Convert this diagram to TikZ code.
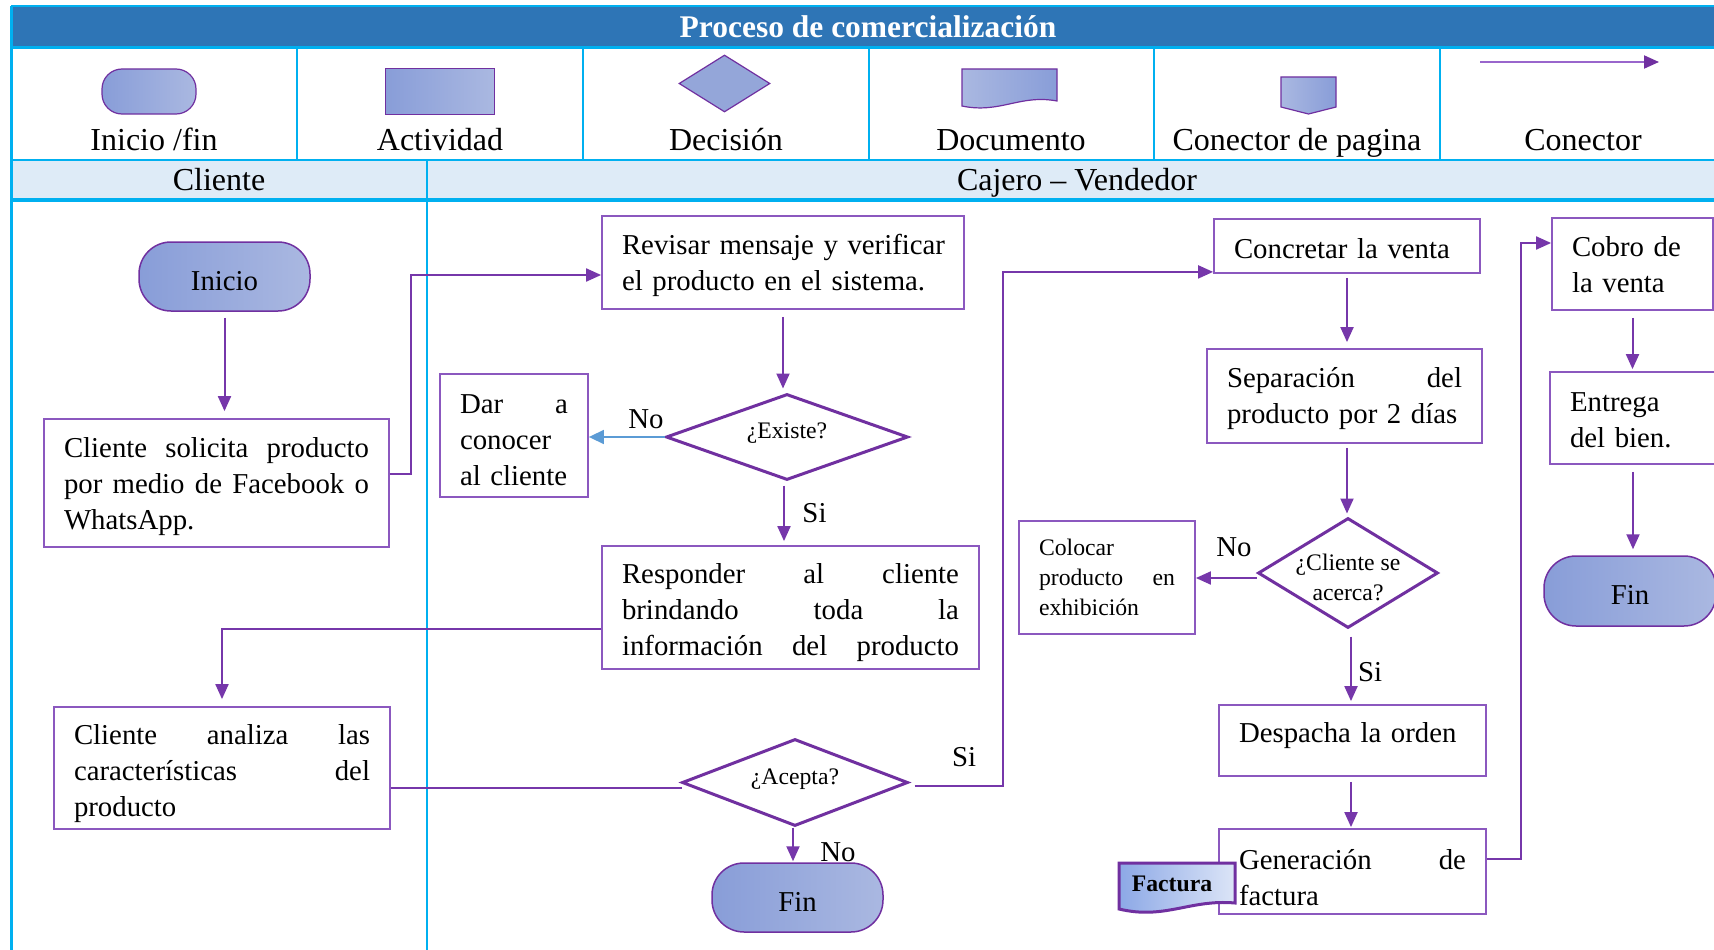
\documentclass[tikz,border=0pt]{standalone}
\usepackage{fontspec}
\setmainfont{Liberation Serif}
\usetikzlibrary{arrows.meta,shapes.geometric,calc}
\definecolor{tbar}{HTML}{2E75B6}
\definecolor{cyanl}{HTML}{00B0F0}
\definecolor{lanebg}{HTML}{DEEBF7}
\definecolor{pur}{HTML}{7030A0}
\definecolor{purbox}{HTML}{8B58BF}
\definecolor{purline}{HTML}{7637AA}
\definecolor{lgline}{HTML}{9966CC}
\definecolor{gradL}{HTML}{889DD8}
\definecolor{gradR}{HTML}{AAB8E1}
\definecolor{noblue}{HTML}{5B9BD5}
\definecolor{decfill}{HTML}{94A6D9}
\definecolor{factL}{HTML}{8CA8E6}
\definecolor{factR}{HTML}{DCE5F7}
\newcommand\fBody{\fontsize{28.8pt}{36pt}\selectfont\parindent=0pt}
\newcommand\fSmall{\fontsize{23.7pt}{30pt}\selectfont\parindent=0pt}
\newcommand\fHead{\fontsize{32pt}{38pt}\selectfont}
\newcommand\fTitle{\fontsize{31.5pt}{38pt}\selectfont\bfseries}
\begin{document}
\begin{tikzpicture}[x=1pt,y=-1pt,
  box/.style={draw=purbox, line width=1.8pt, fill=white, inner xsep=20pt, inner ysep=0pt, align=left, font=\fBody},
  tsh/.style={execute at begin node={\rule{0pt}{34pt}}, execute at end node={\rule[-#1pt]{0pt}{#1pt}}},
  term/.style={draw=pur, line width=1.5pt, rounded corners=32pt, left color=gradL, right color=gradR, font=\fBody, inner sep=0pt, text height=27.5pt, text depth=0pt},
  dec/.style={diamond, draw=pur, line width=3pt, fill=white, inner sep=-4pt, font=\fSmall, align=center},
  arr/.style={draw=purline, line width=2pt, -{Triangle[length=15pt,width=13pt]}},
  bluearr/.style={draw=noblue, line width=1.5pt, -{Triangle[length=15pt,width=14pt]}},
  lbl/.style={font=\fBody, inner sep=0pt},
  lglbl/.style={font=\fHead, inner sep=0pt, anchor=base},
]
\useasboundingbox (0,0) rectangle (1714,950);
\clip (0,0) rectangle (1714,950);
\fill[white] (0,0) rectangle (1714,950);

% ---- table frame ----
\fill[tbar] (11,6) rectangle (1730,48);
\fill[lanebg] (11,160) rectangle (1730,200);
\draw[cyanl, line width=1.5pt] (11,6) -- (1730,6);
\draw[cyanl, line width=3pt] (11,48) -- (1730,48);
\draw[cyanl, line width=2.5pt] (11,160) -- (1730,160);
\draw[cyanl, line width=4pt] (11,200) -- (1730,200);
\foreach \x in {297,583,869,1154,1440} \draw[cyanl, line width=2pt] (\x,48) -- (\x,160);
\draw[cyanl, line width=2pt] (427,160) -- (427,950);
\draw[cyanl, line width=3pt] (11,6) -- (11,950);

\node[font=\fTitle, text=white, anchor=base, inner sep=0pt] (title) at (868,37.5) {Proceso de comercialización};

% ---- legend ----
\node[term, line width=1.2pt, rounded corners=20pt, minimum width=94pt, minimum height=45pt, text height=0pt] (lgTerm) at (149,91.5) {};
\node[draw=pur, line width=1pt, left color=gradL, right color=gradR, minimum width=109pt, minimum height=45pt, inner sep=0pt] (lgAct) at (439.5,91.5) {};
\node[diamond, draw=pur, line width=1.2pt, fill=decfill, minimum width=91pt, minimum height=57pt, inner sep=0pt] (lgDec) at (724.5,83.5) {};
\shade[left color=gradR, right color=gradL, draw=pur, line width=1.2pt] (962,69) -- (1057,69) -- (1057,101) .. controls (1020,94) and (1000,114) .. (962,106) -- cycle;
\shade[left color=gradR, right color=gradL, draw=pur, line width=1.2pt] (1281,77) -- (1336,77) -- (1336,107) -- (1308.5,114) -- (1281,107) -- cycle;
\coordinate (lgA1) at (1480,62);
\coordinate (lgA2) at (1659,62);
\draw[draw=lgline, line width=2pt, -{Triangle[length=15pt,width=13pt,color=pur]}] (lgA1) -- (lgA2);

\node[lglbl] (l1) at (154,150.5) {Inicio /fin};
\node[lglbl] (l2) at (440,150.5) {Actividad};
\node[lglbl] (l3) at (726,150.5) {Decisión};
\node[lglbl] (l4) at (1011,150.5) {Documento};
\node[lglbl] (l5) at (1297,150.5) {Conector de pagina};
\node[lglbl] (l6) at (1583,150.5) {Conector};

\node[lglbl] (lane1) at (219,190) {Cliente};
\node[lglbl] (lane2) at (1077,190) {Cajero – Vendedor};

% ---- nodes ----
\node[term, minimum width=171pt, minimum height=69pt] (inicio) at (224.5,276.5) {Inicio};
\node[box, tsh=13.8, minimum width=345pt, minimum height=128pt, text width=305pt] (sol) at (216.5,483)
  {Cliente\hfill solicita\hfill producto\\por\hfill medio\hfill de\hfill Facebook\hfill o\\WhatsApp.};
\node[box, tsh=13.8, minimum width=362pt, minimum height=93pt, text width=322pt] (rev) at (783,262.5)
  {\mbox{Revisar mensaje y verificar}\\el producto en el sistema.};
\node[dec, aspect=2.8, minimum width=242pt, minimum height=86pt, text depth=11.8pt] (existe) at (787,437) {¿Existe?};
\node[box, tsh=6.4, minimum width=148pt, minimum height=123pt, text width=108pt] (dar) at (514,435.5)
  {Dar\hfill a\\conocer\\\mbox{al cliente}};
\node[box, tsh=9.4, minimum width=377pt, minimum height=123pt, text width=337pt] (resp) at (790.5,607.5)
  {Responder\hfill al\hfill cliente\\brindando\hfill toda\hfill la\\información\hfill del\hfill producto};
\node[box, tsh=8.4, minimum width=336pt, minimum height=122pt, text width=296pt] (analiza) at (222,768)
  {Cliente\hfill analiza\hfill las\\características\hfill del\\producto};
\node[dec, aspect=2.6, minimum width=226pt, minimum height=87pt, text depth=11.8pt] (acepta) at (795,782.5) {¿Acepta?};
\node[term, minimum width=171pt, minimum height=69pt] (finB) at (797.5,897.5) {Fin};

\node[box, tsh=9.6, minimum width=266pt, minimum height=54pt, text width=226pt] (conc) at (1347,246) {Concretar la venta};
\node[box, tsh=14.8, minimum width=275pt, minimum height=94pt, text width=235pt] (sep) at (1344.5,396)
  {Separación\hfill del\\producto por 2 días};
\node[dec, aspect=1.64, minimum width=180pt, minimum height=110pt] (acerca) at (1348,573) {\rule{0pt}{25pt}¿Cliente se\\acerca?};
\node[box, font=\fSmall, minimum width=176pt, minimum height=113pt, text width=136pt] (col) at (1107,577.5)
  {Colocar\\producto\hfill en\\exhibición};
\node[box, tsh=29.2, minimum width=267pt, minimum height=71pt, text width=227pt] (desp) at (1352.5,740.5) {Despacha la orden};
\node[box, tsh=3, minimum width=267pt, minimum height=85pt, text width=227pt] (gen) at (1352.5,871.5)
  {Generación\hfill de\\factura};
\shade[left color=factL, right color=factR, draw=pur, line width=3pt]
  (1119,863) -- (1235,863) -- (1235,903) .. controls (1190,899) and (1165,920) .. (1119,909) -- cycle;
\node[font=\fSmall\bfseries, inner sep=0pt] (fact) at (1172,884) {Factura};

\node[box, tsh=14, minimum width=161pt, minimum height=92pt, text width=121pt] (cobro) at (1632.5,264) {Cobro de\\la venta};
\node[box, tsh=10.8, minimum width=166pt, minimum height=92pt, text width=126pt] (ent) at (1633,418) {Entrega\\del bien.};
\node[term, minimum width=172pt, minimum height=70pt] (finR) at (1630,591) {Fin};

% ---- connectors ----
\draw[arr, shorten <=6pt, shorten >=7pt] (inicio.south) -- (inicio.south |- sol.north);
\draw[arr] ($(sol.east)+(0,-9)$) -- ++(21,0) |- ($(rev.west)+(0,12.5)$);
\draw[arr, shorten <=7pt, shorten >=4pt] (rev.south) -- (rev.south |- existe.north);
\draw[bluearr] (existe.west) -- (existe.west -| dar.east);
\node[lbl] (no1) at (646,419) {No};
\draw[arr, shorten <=4pt, shorten >=4pt] ($(existe.south)+(-3,0)$) -- ($(existe.south |- resp.north)+(-3,0)$);
\node[lbl] (si1) at (814.5,513) {Si};
\draw[arr, shorten >=7pt] ($(resp.west)+(0,21.5)$) -| (analiza.north);
\draw[draw=purline, line width=2pt] ($(analiza.east |- acepta.west)+(0,5)$) -- ($(acepta.west)+(1,5)$);
\draw[arr, shorten >=1pt] ($(acepta.south)+(-2,0)$) -- ($(acepta.south |- finB.north)+(-2,0)$);
\node[lbl] (no2) at (838,852) {No};
\draw[arr, shorten <=5pt] ($(acepta.east)+(0,3.5)$) -- ++(93,0) |- ($(conc.south west)+(0,-2)$);
\node[lbl] (si2) at (964,757) {Si};
\draw[arr, shorten <=4pt, shorten >=6pt] (conc.south) -- (conc.south |- sep.north);
\draw[arr, shorten <=4pt, shorten >=3pt] ($(sep.south)+(2.5,0)$) -- ($(sep.south |- acerca.north)+(2.5,0)$);
\draw[arr] ($(acerca.west)+(0,5)$) -- ($(acerca.west -| col.east)+(0,5)$);
\node[lbl] (no3) at (1234,547) {No};
\draw[arr, shorten <=7pt, shorten >=3pt] ($(acerca.south)+(3,0)$) -- ($(acerca.south |- desp.north)+(3,0)$);
\node[lbl] (si3) at (1370,672) {Si};
\draw[arr, shorten <=5pt, shorten >=1pt] ($(desp.south)+(-1.5,0)$) -- ($(desp.south |- gen.north)+(-1.5,0)$);
\draw[arr] ($(gen.east)+(0,-12.5)$) -- ++(34,0) |- ($(cobro.west)+(0,-21)$);
\draw[arr, shorten <=7pt, shorten >=2pt] (cobro.south) -- (cobro.south |- ent.north);
\draw[arr, shorten <=7pt, shorten >=6pt] (ent.south) -- (ent.south |- finR.north);
\end{tikzpicture}
\end{document}
